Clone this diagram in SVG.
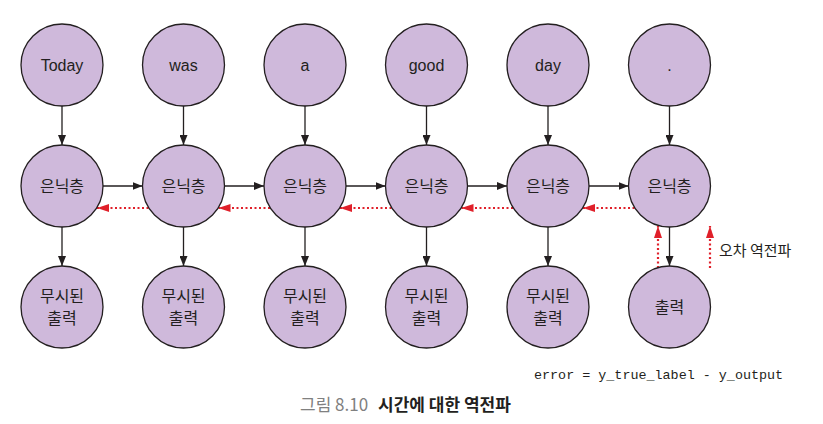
<svg xmlns="http://www.w3.org/2000/svg" width="823" height="424" viewBox="0 0 823 424">
<style>
.n{fill:#cfb9db;stroke:#231f20;stroke-width:1.3}
.t{font-family:"Liberation Sans","Noto Sans CJK KR",sans-serif;font-size:16px;fill:#231f20;text-anchor:middle}
.k{stroke:#231f20;stroke-width:1.3;fill:none;marker-end:url(#ab)}
.r{stroke:#e0202a;stroke-width:2.2;stroke-dasharray:2 2.5;fill:none;marker-end:url(#ar)}
</style>
<defs>
<marker id="ab" viewBox="0 0 10 8" refX="10" refY="4" markerWidth="10" markerHeight="8" markerUnits="userSpaceOnUse" orient="auto"><path d="M0,0L10,4L0,8Z" fill="#231f20"/></marker>
<marker id="ar" viewBox="0 0 12 8" refX="12" refY="4" markerWidth="12" markerHeight="8" markerUnits="userSpaceOnUse" orient="auto"><path d="M0,0L12,4L0,8Z" fill="#e0202a"/></marker>
</defs>
<rect width="823" height="424" fill="#fff"/>
<g id="connectors">
<path class="k" d="M62,106V145"/><path class="k" d="M183.5,106V145"/><path class="k" d="M305,106V145"/><path class="k" d="M426.5,106V145"/><path class="k" d="M548,106V145"/><path class="k" d="M669.5,106V145"/>
<path class="k" d="M62,227V266"/><path class="k" d="M183.5,227V266"/><path class="k" d="M305,227V266"/><path class="k" d="M426.5,227V266"/><path class="k" d="M548,227V266"/><path class="k" d="M669.5,227V266"/>
<path class="k" d="M103,186H142.5"/><path class="k" d="M224.5,186H264"/><path class="k" d="M346,186H385.5"/><path class="k" d="M467.5,186H507"/><path class="k" d="M589,186H628.5"/>
<path class="r" d="M148.5,208H97"/><path class="r" d="M270,208H218.5"/><path class="r" d="M391.5,208H340"/><path class="r" d="M513,208H461.5"/><path class="r" d="M634.5,208H583"/>
<path class="r" d="M658,268V226"/><path class="r" d="M710,268V226"/>
</g>
<g id="in0"><circle class="n" cx="62" cy="65" r="41"/><text class="t" x="62" y="71">Today</text></g>
<g id="in1"><circle class="n" cx="183.5" cy="65" r="41"/><text class="t" x="183.5" y="71">was</text></g>
<g id="in2"><circle class="n" cx="305" cy="65" r="41"/><text class="t" x="305" y="71">a</text></g>
<g id="in3"><circle class="n" cx="426.5" cy="65" r="41"/><text class="t" x="426.5" y="71">good</text></g>
<g id="in4"><circle class="n" cx="548" cy="65" r="41"/><text class="t" x="548" y="71">day</text></g>
<g id="in5"><circle class="n" cx="669.5" cy="65" r="41"/><text class="t" x="669.5" y="71">.</text></g>
<g id="h0"><circle class="n" cx="62" cy="186" r="41"/><text class="t" x="62" y="192">은닉층</text></g>
<g id="h1"><circle class="n" cx="183.5" cy="186" r="41"/><text class="t" x="183.5" y="192">은닉층</text></g>
<g id="h2"><circle class="n" cx="305" cy="186" r="41"/><text class="t" x="305" y="192">은닉층</text></g>
<g id="h3"><circle class="n" cx="426.5" cy="186" r="41"/><text class="t" x="426.5" y="192">은닉층</text></g>
<g id="h4"><circle class="n" cx="548" cy="186" r="41"/><text class="t" x="548" y="192">은닉층</text></g>
<g id="h5"><circle class="n" cx="669.5" cy="186" r="41"/><text class="t" x="669.5" y="192">은닉층</text></g>
<g id="o0"><circle class="n" cx="62" cy="307" r="41"/><text class="t" x="62" y="302">무시된</text><text class="t" x="62" y="324">출력</text></g>
<g id="o1"><circle class="n" cx="183.5" cy="307" r="41"/><text class="t" x="183.5" y="302">무시된</text><text class="t" x="183.5" y="324">출력</text></g>
<g id="o2"><circle class="n" cx="305" cy="307" r="41"/><text class="t" x="305" y="302">무시된</text><text class="t" x="305" y="324">출력</text></g>
<g id="o3"><circle class="n" cx="426.5" cy="307" r="41"/><text class="t" x="426.5" y="302">무시된</text><text class="t" x="426.5" y="324">출력</text></g>
<g id="o4"><circle class="n" cx="548" cy="307" r="41"/><text class="t" x="548" y="302">무시된</text><text class="t" x="548" y="324">출력</text></g>
<g id="o5"><circle class="n" cx="669.5" cy="307" r="41"/><text class="t" x="669.5" y="313">출력</text></g>
<text x="719" y="256" font-family="'Noto Sans CJK KR',sans-serif" font-size="15" fill="#231f20">오차 역전파</text>
<text x="534" y="379" font-family="'Liberation Mono',monospace" font-size="13.4" fill="#231f20">error = y_true_label - y_output</text>
<text x="300" y="411" font-family="'Noto Sans CJK KR',sans-serif" font-size="17" fill="#808080">그림 8.10</text>
<text x="378" y="411" font-family="'Noto Sans CJK KR',sans-serif" font-size="17" font-weight="bold" fill="#231f20">시간에 대한 역전파</text>
</svg>
